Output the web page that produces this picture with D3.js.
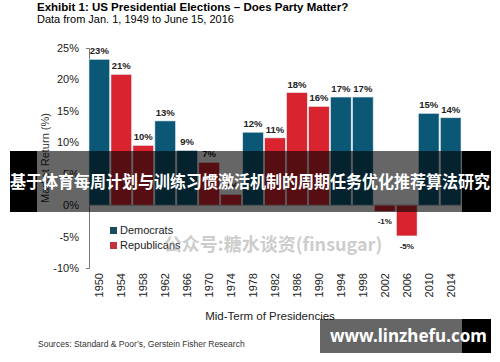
<!DOCTYPE html>
<html>
<head>
<meta charset="utf-8">
<script src="https://cdn.jsdelivr.net/npm/d3@7"></script>
<style>
  body { margin: 0; background: #fff; }
  svg { display: block; font-family: "Liberation Sans", Arial, sans-serif; }
</style>
</head>
<body>
<div id="chart"></div>
<script>
// data
var years = ["1950","1954","1958","1962","1966","1970","1974","1978","1982","1986","1990","1994","1998","2002","2006","2010","2014"];
var returns = [23.2, 20.8, 9.5, 13.4, 8.7, 6.8, 1.7, 11.6, 10.7, 17.9, 15.7, 17.2, 17.2, -1.0, -4.9, 14.6, 13.9];
var labels = ["23%","21%","10%","13%","9%","7%","2%","12%","11%","18%","16%","17%","17%","-1%","-5%","15%","14%"];
var party = ["D","R","R","D","D","R","R","D","R","R","R","D","D","R","R","D","D"];
var yTicks = [-10, -5, 0, 5, 10, 15, 20, 25];
var partyNames = ["Democrats", "Republicans"];

var demBlue = "#0b5876";
var repRed = "#d9232f";

var width = 500, height = 362;

var svg = d3.select("#chart").append("svg")
    .attr("width", width)
    .attr("height", height);

// title
svg.append("text")
    .attr("x", 37).attr("y", 11)
    .style("font-size", "11.5px").style("font-weight", "bold")
    .text("Exhibit 1: US Presidential Elections \u2013 Does Party Matter?");
svg.append("text")
    .attr("x", 37).attr("y", 23)
    .style("font-size", "11px")
    .text("Data from Jan. 1, 1949 to June 15, 2016");

var x = d3.scaleBand().domain(years).range([89, 461]).paddingInner(0.06);
var y = d3.scaleLinear().domain([-10, 25]).range([268, 48]);

// y axis
var yAxis = d3.axisLeft(y)
    .tickValues(yTicks)
    .tickSizeInner(0)
    .tickSizeOuter(3)
    .tickPadding(10)
    .tickFormat(function(d) { return d + "%"; });
var gy = svg.append("g").attr("transform", "translate(89,0)").call(yAxis);
gy.select(".domain").attr("stroke", "#777");
gy.selectAll("text").style("font-size", "11px").attr("fill", "#222");

svg.append("text")
    .attr("transform", "translate(49,158) rotate(-90)")
    .attr("text-anchor", "middle")
    .style("font-size", "11px").attr("fill", "#333")
    .text("Market Return (%)");

// zero line
svg.append("line")
    .attr("x1", 89).attr("x2", 461)
    .attr("y1", y(0)).attr("y2", y(0))
    .attr("stroke", "#999");

// bars
svg.selectAll("rect.bar")
    .data(years)
    .join("rect")
    .attr("class", "bar")
    .attr("x", function(d) { return x(d); })
    .attr("width", x.bandwidth())
    .attr("y", function(d, i) { return y(Math.max(0, returns[i])); })
    .attr("height", function(d, i) { return Math.abs(y(returns[i]) - y(0)); })
    .attr("fill", function(d, i) { return party[i] == "D" ? demBlue : repRed; })
    .attr("stroke", "#dfe9ee")
    .attr("stroke-width", 0.6);

// value labels (negative ones go under the bar)
svg.selectAll("text.val")
    .data(years)
    .join("text")
    .attr("class", "val")
    .attr("x", function(d) { return x(d) + x.bandwidth() / 2; })
    .attr("y", function(d, i) {
        if (returns[i] < 0) return y(returns[i]) + 13;
        return y(returns[i]) - 5;
    })
    .attr("text-anchor", "middle")
    .style("font-size", function(d, i) { return returns[i] < 0 ? "8px" : "9.5px"; })
    .style("font-weight", "bold")
    .attr("fill", "#222")
    .text(function(d, i) { return labels[i]; });

// x tick labels, rotated
svg.selectAll("text.year")
    .data(years)
    .join("text")
    .attr("class", "year")
    .attr("transform", function(d) {
        return "translate(" + (x(d) + x.bandwidth() / 2 + 4) + ",273) rotate(-90)";
    })
    .attr("text-anchor", "end")
    .style("font-size", "11px").attr("fill", "#222")
    .text(function(d) { return d; });

svg.append("text")
    .attr("x", 270).attr("y", 320)
    .attr("text-anchor", "middle")
    .style("font-size", "11.5px").attr("fill", "#222")
    .text("Mid-Term of Presidencies");

svg.append("text")
    .attr("x", 38).attr("y", 347)
    .style("font-size", "8.5px").attr("fill", "#333")
    .text("Sources: Standard & Poor\u2019s, Gerstein Fisher Research");

// legend
var legend = svg.selectAll("g.leg")
    .data(partyNames)
    .join("g")
    .attr("class", "leg")
    .attr("transform", function(d, i) { return "translate(110," + (227 + i * 15) + ")"; });
legend.append("rect")
    .attr("width", 7).attr("height", 7)
    .attr("fill", function(d, i) { return i == 0 ? "#1a4d5c" : "#c3303e"; });
legend.append("text")
    .attr("x", 10).attr("y", 7)
    .style("font-size", "11px").attr("fill", "#222")
    .text(function(d) { return d; });

// faint watermark
svg.append("text")
    .attr("x", 273).attr("y", 251)
    .attr("text-anchor", "middle")
    .style("font-family", "'Noto Sans CJK SC', sans-serif")
    .style("font-size", "18px").style("font-weight", "bold")
    .attr("fill", "#aaa").attr("fill-opacity", 0.6)
    .text("\u516c\u4f17\u53f7:\u7cd6\u6c34\u8c08\u8d44(finsugar)");

// banner overlay
svg.append("rect").attr("x", 37).attr("y", 151).attr("width", 425).attr("height", 61)
    .attr("fill", "#000").attr("fill-opacity", 0.6);
svg.append("rect").attr("x", 10).attr("y", 151).attr("width", 27).attr("height", 61).attr("fill", "#000");
svg.append("rect").attr("x", 462).attr("y", 151).attr("width", 29).attr("height", 61).attr("fill", "#000");
svg.append("text")
    .attr("x", 250).attr("y", 188)
    .attr("text-anchor", "middle")
    .attr("textLength", 480).attr("lengthAdjust", "spacingAndGlyphs")
    .style("font-family", "'Noto Sans CJK SC', sans-serif")
    .style("font-size", "17px").style("font-weight", "bold")
    .attr("fill", "#fff")
    .text("\u57fa\u4e8e\u4f53\u80b2\u6bcf\u5468\u8ba1\u5212\u4e0e\u8bad\u7ec3\u4e60\u60ef\u6fc0\u6d3b\u673a\u5236\u7684\u5468\u671f\u4efb\u52a1\u4f18\u5316\u63a8\u8350\u7b97\u6cd5\u7814\u7a76");

// site watermark box
svg.append("rect").attr("x", 320).attr("y", 319).attr("width", 142).attr("height", 34)
    .attr("fill", "#000").attr("fill-opacity", 0.6);
svg.append("rect").attr("x", 462).attr("y", 319).attr("width", 29).attr("height", 34).attr("fill", "#000");
svg.append("text")
    .attr("x", 330).attr("y", 342)
    .style("font-family", "'Noto Sans', sans-serif")
    .style("font-size", "17px").style("font-weight", "bold")
    .attr("fill", "#fff")
    .text("www.linzhefu.com");
</script>
</body>
</html>
